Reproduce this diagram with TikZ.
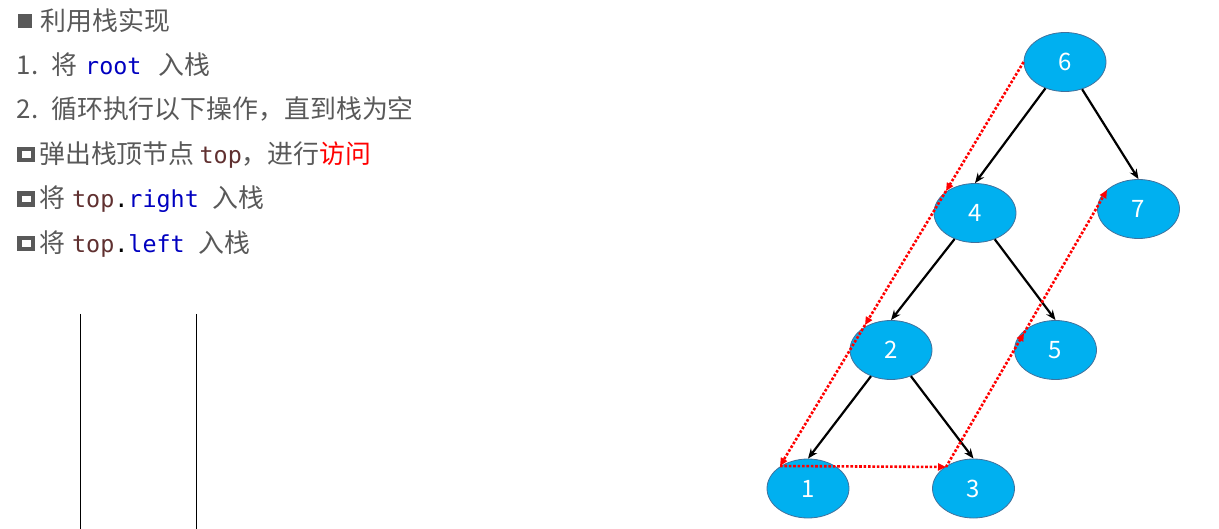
\documentclass[tikz,border=0pt]{standalone}
\usepackage{fontspec}
\setmainfont{Noto Sans CJK SC}
\newfontfamily\codefont{DejaVu Sans Mono}
\usetikzlibrary{shapes.geometric,arrows.meta}
\definecolor{txtgray}{RGB}{89,89,89}
\definecolor{codeblue}{RGB}{0,0,192}
\definecolor{codebrown}{RGB}{96,48,48}
\definecolor{nodefill}{RGB}{0,176,240}
\definecolor{nodeedge}{RGB}{65,113,156}
\tikzset{
  treenode/.style={ellipse, fill=nodefill, draw=nodeedge, line width=0.8pt,
    minimum width=82pt, minimum height=59pt, inner sep=0pt,
    text=white, font=\fontsize{24}{24}\selectfont},
  edge/.style={line width=2.2pt, -{Stealth[length=10pt,width=8pt]}},
  trace/.style={red, line width=2.6pt, dash pattern=on 2.6pt off 1.8pt,
    -{Triangle[length=8pt,width=7pt]}},
  line/.style={anchor=base west, inner sep=0pt, text=txtgray,
    font=\fontsize{25.9}{25.9}\selectfont},
  bulletfull/.style={fill=txtgray, draw=none},
  bullethollow/.style={draw=txtgray, line width=4.2pt, fill=none},
  stackline/.style={line width=0.9pt, black}
}
\newcommand{\cd}[2]{{\codefont\fontsize{23.4}{23.4}\selectfont\color{#1}#2}}
\begin{document}
\begin{tikzpicture}[x=1pt,y=-1pt]
\useasboundingbox (0,0) rectangle (1219,529);
% text block
\fill[bulletfull] (17.5,14) rectangle (31.5,28);
\node[line] (t1) at (40.5,30.5) {利用栈实现};
\node[line] (t2) at (16.5,74.5) {1.\hspace{13pt}将\hspace{8pt}\cd{codeblue}{root}\hspace{17pt}入栈};
\node[line] (t3) at (16.5,118.8) {2.\hspace{13pt}循环执行以下操作，直到栈为空};
\draw[bullethollow] (19.5,148.8) rectangle (33.3,159.8);
\node[line] (t4) at (39,163.2) {弹出栈顶节点\hspace{5pt}\cd{codebrown}{top}，进行\textcolor{red}{访问}};
\draw[bullethollow] (19.5,193.6) rectangle (33.3,204.6);
\node[line] (t5) at (39,208) {将\hspace{7pt}\cd{codebrown}{top}\cd{black}{.}\cd{codeblue}{right}\hspace{14pt}入栈};
\draw[bullethollow] (19.5,237.9) rectangle (33.3,248.9);
\node[line] (t6) at (39,252.3) {将\hspace{7pt}\cd{codebrown}{top}\cd{black}{.}\cd{codeblue}{left}\hspace{14pt}入栈};
% stack lines
\coordinate (s1a) at (80.5,314);
\coordinate (s1b) at (80.5,529);
\coordinate (s2a) at (196.5,314);
\coordinate (s2b) at (196.5,529);
\draw[stackline] (s1a) -- (s1b);
\draw[stackline] (s2a) -- (s2b);
% tree
\node[treenode] (n6) at (1065,62) {6};
\node[treenode] (n4) at (975,213) {4};
\node[treenode] (n7) at (1138.5,209) {7};
\node[treenode] (n2) at (891,350) {2};
\node[treenode] (n5) at (1055.5,350) {5};
\node[treenode] (n1) at (808,488.5) {1};
\node[treenode] (n3) at (973.5,488.5) {3};
\draw[edge] (n6) -- (n4.north);
\draw[edge] (n6) -- (n7.north);
\draw[edge] (n4) -- (n2.north);
\draw[edge] (n4) -- (n5.north);
\draw[edge] (n2) -- (n1.north);
\draw[edge] (n2) -- (n3.north);
% traversal trace
\coordinate (p4) at (946,191);
\coordinate (p2) at (865,325);
\coordinate (p1) at (780,466);
\coordinate (p3) at (946,467);
\coordinate (p5) at (1024,333);
\coordinate (p7) at (1107,190);
\draw[trace] (n6.west) -- (p4);
\draw[trace] (p4) -- (p2);
\draw[trace] (p2) -- (p1);
\draw[trace] (p1) -- (p3);
\draw[trace] (p3) -- (p5);
\draw[trace] (p5) -- (p7);
\end{tikzpicture}
\end{document}
